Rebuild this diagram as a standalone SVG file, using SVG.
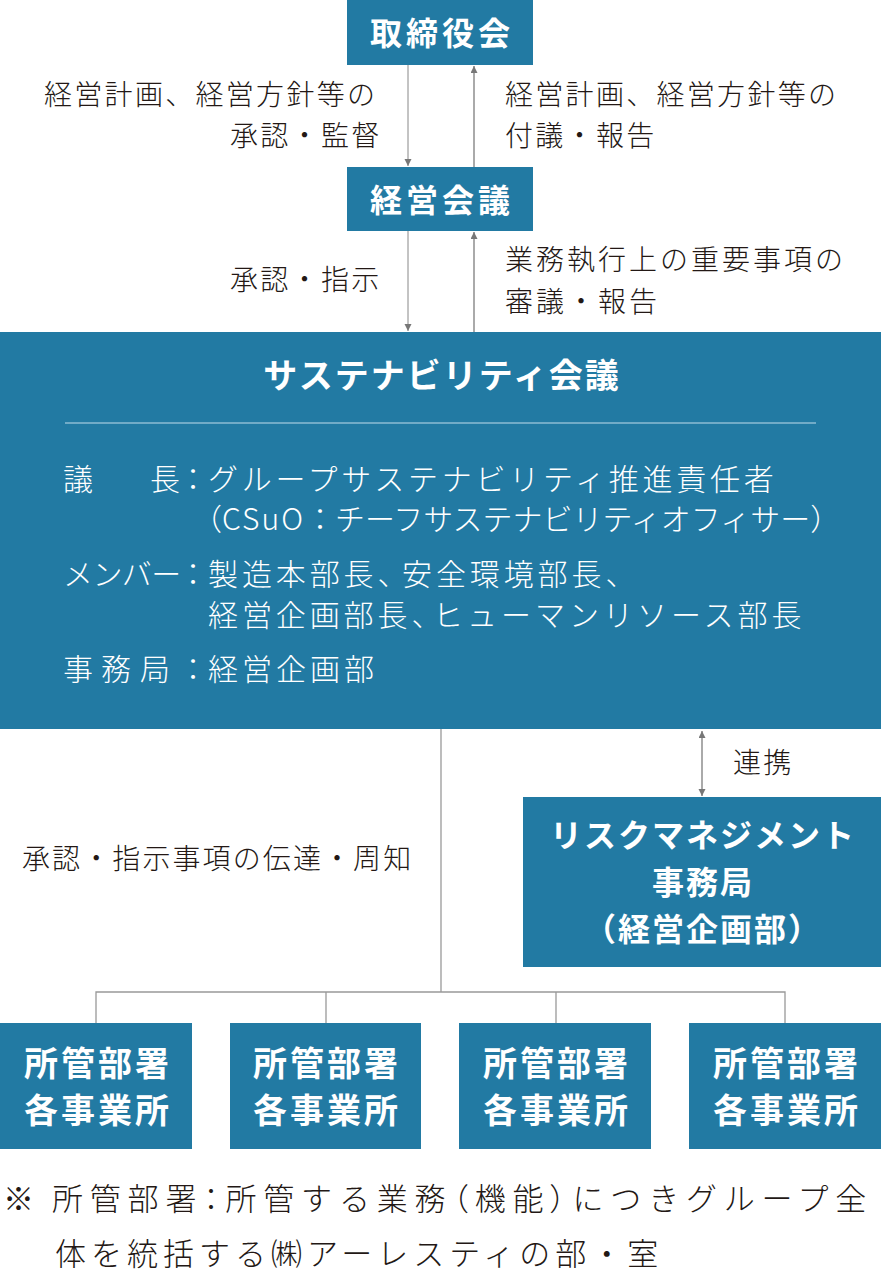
<svg xmlns="http://www.w3.org/2000/svg" width="882" height="1279" viewBox="0 0 882 1279">
<style>
text{font-family:"Noto Sans CJK JP","Noto Sans",sans-serif;}
.box{fill:#227aa3;}
.title{fill:#fff;font-weight:bold;}
.body{fill:#fff;font-size:30px;font-weight:300;}
.lbl{fill:#231815;font-size:28px;font-weight:300;letter-spacing:2.3px;}
.colon,.p{font-feature-settings:"palt";}
.dn{stroke:#888;stroke-width:1;fill:none;}
.up{stroke:#aaa;stroke-width:2;fill:none;}
.tree{stroke:#999;stroke-width:1.3;fill:none;}
</style>
<defs>
<marker id="ah" markerUnits="userSpaceOnUse" markerWidth="8" markerHeight="8" refX="7" refY="3.5" orient="auto-start-reverse">
<path d="M0,0 L7,3.5 L0,7 z" fill="#777"/>
</marker>
</defs>
<g id="connectors">
<line class="dn" x1="408" y1="65" x2="408" y2="166" marker-end="url(#ah)"/>
<line class="up" x1="474" y1="167" x2="474" y2="66" marker-end="url(#ah)"/>
<line class="dn" x1="408" y1="231" x2="408" y2="331" marker-end="url(#ah)"/>
<line class="up" x1="474" y1="332" x2="474" y2="232" marker-end="url(#ah)"/>
<line class="tree" x1="441" y1="729" x2="441" y2="992"/>
<polyline class="tree" points="96,1023 96,992 785,992 785,1023"/>
<line class="tree" x1="326" y1="992" x2="326" y2="1023"/>
<line class="tree" x1="556" y1="992" x2="556" y2="1023"/>
<line class="up" x1="702" y1="731" x2="702" y2="796" marker-start="url(#ah)" marker-end="url(#ah)"/>
</g>
<g id="labels">
<text class="lbl"><tspan x="44" y="105">経営計画、経営方針等の</tspan><tspan x="230" y="146">承認・監督</tspan></text>
<text class="lbl"><tspan x="505" y="105">経営計画、経営方針等の</tspan><tspan x="505" y="146">付議・報告</tspan></text>
<text class="lbl" x="230" y="290">承認・指示</text>
<text class="lbl" style="letter-spacing:3px"><tspan x="505" y="270">業務執行上の重要事項の</tspan><tspan x="505" y="312">審議・報告</tspan></text>
<text class="lbl" x="733" y="773">連携</text>
<text class="lbl" x="22" y="869" style="letter-spacing:2.1px">承認・指示事項の伝達・周知</text>
</g>
<g id="node-board">
<rect class="box" x="347" y="0" width="186" height="65"/>
<text class="title" x="442" y="45" font-size="32" text-anchor="middle" style="letter-spacing:4px">取締役会</text>
</g>
<g id="node-mgmt">
<rect class="box" x="347" y="167" width="186" height="64"/>
<text class="title" x="442" y="212" font-size="32" text-anchor="middle" style="letter-spacing:4px">経営会議</text>
</g>
<g id="node-sustainability">
<rect class="box" x="0" y="332" width="881" height="397"/>
<text class="title" x="442" y="388" font-size="34" text-anchor="middle" style="letter-spacing:2px">サステナビリティ会議</text>
<line x1="65" y1="423" x2="816" y2="423" stroke="#8cbcd3" stroke-width="1.5"/>
<text class="body"><tspan x="63" y="490">議</tspan><tspan x="150" y="490">長</tspan></text>
<text class="body colon" x="193" y="490" text-anchor="middle">：</text>
<text class="body" x="208" y="490" style="letter-spacing:3.75px">グループサステナビリティ推進責任者</text>
<text class="body" x="192" y="530">（<tspan style="letter-spacing:2px">CSuO</tspan>：チーフサステナビリティオフィサー）</text>
<text class="body" x="63" y="585" style="letter-spacing:-0.6px">メンバー</text>
<text class="body colon" x="193" y="585" text-anchor="middle">：</text>
<text class="body" style="letter-spacing:3.9px"><tspan x="208" y="585">製造本部長、</tspan><tspan x="402" y="585">安全環境部長、</tspan></text>
<text class="body" style="letter-spacing:3.9px"><tspan x="208" y="626">経営企画部長、</tspan><tspan x="433" y="626" style="letter-spacing:4px">ヒューマンリソース部長</tspan></text>
<text class="body" x="63 101 140" y="680">事務局</text>
<text class="body colon" x="193" y="680" text-anchor="middle">：</text>
<text class="body" x="208" y="680" style="letter-spacing:4px">経営企画部</text>
</g>
<g id="node-risk">
<rect class="box" x="523" y="797" width="358" height="170"/>
<text class="title" font-size="32" text-anchor="middle" style="letter-spacing:2px"><tspan x="703" y="847">リスクマネジメント</tspan><tspan x="703" y="894">事務局</tspan><tspan x="703" y="941">（経営企画部）</tspan></text>
</g>
<g id="node-dept1">
<rect class="box" x="0" y="1023" width="192" height="126"/>
<text class="title" font-size="34" text-anchor="middle" style="letter-spacing:3px"><tspan x="98" y="1076">所管部署</tspan><tspan x="98" y="1123">各事業所</tspan></text>
</g>
<g id="node-dept2">
<rect class="box" x="230" y="1023" width="191" height="126"/>
<text class="title" font-size="34" text-anchor="middle" style="letter-spacing:3px"><tspan x="327" y="1076">所管部署</tspan><tspan x="327" y="1123">各事業所</tspan></text>
</g>
<g id="node-dept3">
<rect class="box" x="459" y="1023" width="192" height="126"/>
<text class="title" font-size="34" text-anchor="middle" style="letter-spacing:3px"><tspan x="557" y="1076">所管部署</tspan><tspan x="557" y="1123">各事業所</tspan></text>
</g>
<g id="node-dept4">
<rect class="box" x="689" y="1023" width="192" height="126"/>
<text class="title" font-size="34" text-anchor="middle" style="letter-spacing:3px"><tspan x="787" y="1076">所管部署</tspan><tspan x="787" y="1123">各事業所</tspan></text>
</g>
<g id="footnote">
<text fill="#231815" font-size="31" font-weight="300"><tspan x="3" y="1210">※</tspan><tspan x="52" y="1210" style="letter-spacing:6.8px">所管部署<tspan class="p">：</tspan>所管する業務<tspan class="p">（</tspan>機能<tspan class="p">）</tspan>につきグループ全</tspan><tspan x="55" y="1265" style="letter-spacing:5px">体を統括する㈱アーレスティの部・室</tspan></text>
</g>
</svg>
